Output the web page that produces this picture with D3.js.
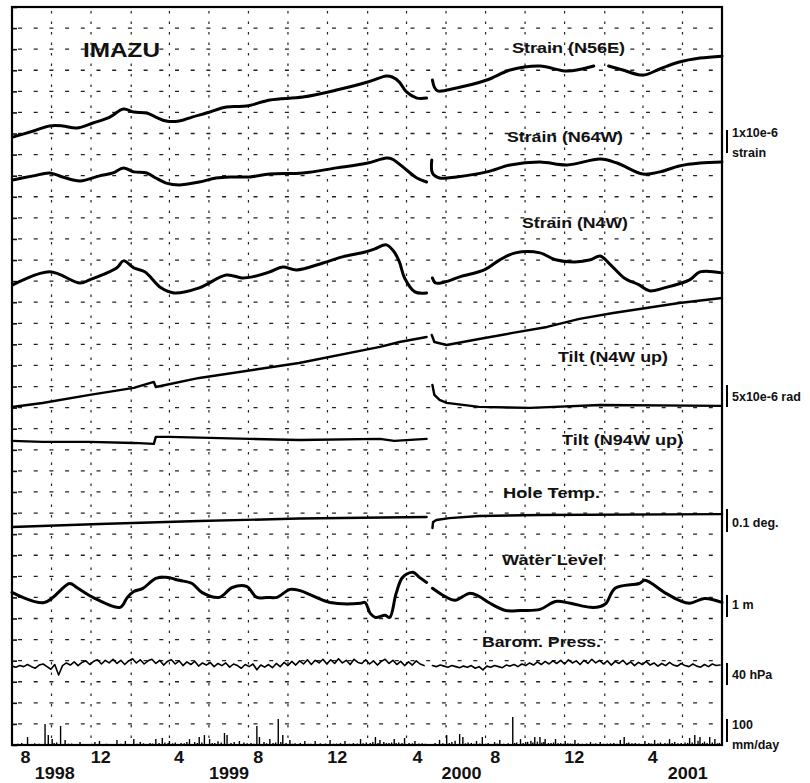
<!DOCTYPE html>
<html>
<head>
<meta charset="utf-8">
<script src="https://cdn.jsdelivr.net/npm/d3@7"></script>
<style>
  body { margin: 0; background: #fff; }
  svg text { font-family: "Liberation Sans", Arial, sans-serif; font-weight: bold; fill: #111; }
</style>
</head>
<body>
<svg id="chart" width="810" height="783"></svg>
<script>
// ---- data (dates + values, null = recording gap) ----
// strain in 1e-6, relative
const strainN56E = [
  ["1998-08-02", -0.17], ["1998-09-03", 0.12], ["1998-09-28", 0.36], ["1998-10-18", 0.36],
  ["1998-11-09", 0.26], ["1998-12-04", 0.50], ["1998-12-30", 0.78], ["1999-01-20", 1.16],
  ["1999-02-05", 1.02], ["1999-02-25", 0.97], ["1999-03-11", 0.78], ["1999-03-27", 0.59],
  ["1999-04-16", 0.59], ["1999-05-06", 0.78], ["1999-05-28", 0.97], ["1999-06-28", 1.26],
  ["1999-07-29", 1.30], ["1999-09-03", 1.59], ["1999-10-24", 1.73], ["1999-12-15", 2.06],
  ["2000-02-01", 2.44], ["2000-03-01", 2.73], ["2000-03-10", 2.68], ["2000-03-21", 2.44],
  ["2000-04-01", 1.97], ["2000-04-17", 1.68], ["2000-05-02", 1.68],
  null,
  ["2000-05-11", 2.54], ["2000-05-14", 2.20], ["2000-05-19", 2.02], ["2000-06-17", 2.16],
  ["2000-08-03", 2.54], ["2000-09-08", 3.01], ["2000-10-24", 3.20], ["2000-12-05", 2.96],
  ["2001-01-15", 3.20],
  null,
  ["2001-02-07", 3.20], ["2001-03-01", 3.01], ["2001-04-01", 2.77], ["2001-04-27", 3.06],
  ["2001-05-27", 3.39], ["2001-06-28", 3.58], ["2001-08-01", 3.67]
];

const strainN64W = [
  ["1998-08-02", 0.80], ["1998-09-03", 0.99], ["1998-09-28", 1.13], ["1998-10-18", 0.94],
  ["1998-11-14", 0.75], ["1998-12-14", 0.99], ["1999-01-04", 1.13], ["1999-01-20", 1.37],
  ["1999-02-05", 1.18], ["1999-02-25", 1.13], ["1999-03-11", 0.89], ["1999-03-27", 0.65],
  ["1999-04-16", 0.56], ["1999-05-17", 0.70], ["1999-06-12", 0.89], ["1999-07-07", 0.94],
  ["1999-08-03", 0.94], ["1999-09-03", 1.08], ["1999-10-24", 1.13], ["1999-12-15", 1.37],
  ["2000-02-01", 1.60], ["2000-03-01", 1.84], ["2000-03-10", 1.79], ["2000-04-01", 1.27],
  ["2000-04-17", 0.89], ["2000-05-02", 0.70],
  null,
  ["2000-05-10", 1.74], ["2000-05-11", 1.13], ["2000-05-22", 0.89], ["2000-06-17", 0.94],
  ["2000-08-03", 1.18], ["2000-09-08", 1.51], ["2000-10-24", 1.65], ["2000-12-05", 1.51],
  ["2001-01-25", 1.79], ["2001-02-20", 1.60], ["2001-04-01", 1.08], ["2001-04-27", 1.18],
  ["2001-05-27", 1.46], ["2001-06-28", 1.60], ["2001-08-01", 1.65]
];

const strainN4W = [
  ["1998-08-02", -0.18], ["1998-09-28", 0.44], ["1998-11-14", -0.09], ["1998-11-29", 0.06],
  ["1999-01-10", 0.63], ["1999-01-20", 0.96], ["1999-02-05", 0.63], ["1999-02-22", 0.44],
  ["1999-03-19", -0.32], ["1999-04-08", -0.56], ["1999-05-17", -0.32], ["1999-06-28", 0.29],
  ["1999-07-22", 0.15], ["1999-08-07", 0.20], ["1999-09-03", 0.44], ["1999-09-23", 0.67],
  ["1999-10-14", 0.53], ["1999-11-24", 0.86], ["1999-12-24", 1.15], ["2000-01-28", 1.38],
  ["2000-02-12", 1.53], ["2000-03-01", 1.72], ["2000-03-13", 1.38], ["2000-03-21", 0.91],
  ["2000-03-29", 0.15], ["2000-04-14", -0.51], ["2000-05-02", -0.56],
  null,
  ["2000-05-11", 0.15], ["2000-05-16", -0.09], ["2000-05-30", -0.04], ["2000-06-22", 0.20],
  ["2000-07-30", 0.53], ["2000-08-23", 1.01], ["2000-09-16", 1.34], ["2000-10-24", 1.34],
  ["2000-11-17", 1.01], ["2000-12-17", 0.91], ["2001-01-10", 1.01], ["2001-01-25", 1.19],
  ["2001-02-10", 0.77], ["2001-03-03", 0.15], ["2001-03-26", -0.18], ["2001-04-11", -0.46],
  ["2001-05-04", -0.32], ["2001-06-12", 0.06], ["2001-06-28", 0.44], ["2001-08-01", 0.39]
];

// tilt in 1e-6 rad, relative
const tiltN4W = [
  ["1998-08-01", -9.84], ["1998-09-17", -8.89], ["1998-11-29", -6.99], ["1999-02-05", -5.33],
  ["1999-03-08", -3.91], ["1999-03-11", -5.10], ["1999-05-17", -2.96], ["1999-10-18", 0.59],
  ["2000-02-20", 4.39], ["2000-03-21", 5.57], ["2000-05-02", 6.76],
  null,
  ["2000-05-10", 7.23], ["2000-05-14", 5.57], ["2000-06-02", 4.86], ["2000-07-22", 6.28],
  ["2000-09-12", 7.71], ["2000-11-04", 9.13], ["2000-12-24", 11.03], ["2001-02-14", 12.45],
  ["2001-04-06", 13.63], ["2001-05-27", 14.82], ["2001-08-01", 16.00]
];

const tiltN94W = [
  ["1998-08-01", -2.89], ["1998-09-17", -3.13], ["1998-11-29", -3.13], ["1999-02-05", -3.37],
  ["1999-03-08", -3.60], ["1999-03-11", -1.94], ["1999-04-01", -1.94], ["1999-08-03", -2.42],
  ["1999-10-18", -2.66], ["2000-02-20", -2.42], ["2000-03-13", -2.89], ["2000-05-02", -2.42],
  null,
  ["2000-05-11", 10.38], ["2000-05-14", 8.01], ["2000-05-22", 6.83], ["2000-06-02", 6.12],
  ["2000-07-22", 5.17], ["2000-10-09", 4.93], ["2001-01-25", 5.64], ["2001-08-01", 5.41]
];

// hole temperature in deg, relative
const holeTemp = [
  ["1998-08-01", -0.066], ["1998-12-14", -0.052], ["1999-05-17", -0.038], ["1999-10-18", -0.026],
  ["2000-05-02", -0.019],
  null,
  ["2000-05-11", -0.071], ["2000-05-12", -0.043], ["2000-05-17", -0.033], ["2000-06-06", -0.024],
  ["2000-07-22", -0.014], ["2000-10-24", -0.009], ["2001-08-01", -0.005]
];

// water level in m, relative
const waterLevel = [
  ["1998-08-01", 0.24], ["1998-09-20", -0.24], ["1998-10-29", 0.66], ["1998-11-09", 0.47],
  ["1998-12-04", 0.00], ["1999-01-15", -0.47], ["1999-01-26", 0.00], ["1999-02-05", 0.28],
  ["1999-02-19", 0.43], ["1999-03-11", 0.90], ["1999-03-27", 0.95], ["1999-04-16", 0.81],
  ["1999-05-06", 0.66], ["1999-05-21", 0.24], ["1999-06-17", 0.00], ["1999-07-07", 0.47],
  ["1999-07-29", 0.52], ["1999-08-14", 0.00], ["1999-08-30", 0.00], ["1999-09-14", 0.00],
  ["1999-10-04", 0.38], ["1999-10-19", 0.33], ["1999-12-05", -0.24], ["2000-01-21", -0.28],
  ["2000-01-28", -0.24], ["2000-02-05", -0.76], ["2000-02-13", -0.95], ["2000-02-28", -0.85],
  ["2000-03-06", -0.95], ["2000-03-16", 0.19], ["2000-03-26", 0.95], ["2000-04-11", 1.19],
  ["2000-04-21", 0.95], ["2000-05-02", 0.71],
  null,
  ["2000-05-11", 0.43], ["2000-05-30", 0.05], ["2000-06-15", -0.14], ["2000-07-07", 0.19],
  ["2000-07-22", 0.05], ["2000-08-08", -0.28], ["2000-09-01", -0.62], ["2000-09-24", -0.62],
  ["2000-10-24", -0.57], ["2000-11-17", -0.19], ["2000-12-10", -0.28], ["2001-01-10", -0.47],
  ["2001-01-25", -0.43], ["2001-02-03", -0.28], ["2001-02-17", 0.43], ["2001-03-26", 0.66],
  ["2001-04-04", 0.81], ["2001-05-04", 0.24], ["2001-05-27", -0.14], ["2001-06-12", -0.28],
  ["2001-07-05", -0.05], ["2001-08-01", -0.24]
];

// barometric pressure, hPa, one reading every 6 days from each start date
const pressStep = 6;
const pressStart1 = "1998-08-01";
const pressure1 = [
  1009, 1007, 1010, 1008, 1012, 1008, 1005, 1011, 1013, 1008,
  1003, 1012, 992, 1010, 1015, 1011, 1017, 1010, 1016, 1019,
  1012, 1018, 1021, 1013, 1020, 1015, 1022, 1014, 1020, 1012,
  1019, 1023, 1015, 1021, 1013, 1019, 1022, 1014, 1020, 1011,
  1018, 1021, 1013, 1019, 1010, 1017, 1012, 1018, 1009, 1015,
  1011, 1016, 1008, 1014, 1010, 1015, 1007, 1013, 1010, 1005,
  1012, 1008, 1013, 1002, 1011, 1007, 1012, 1006, 1014, 1008,
  1016, 1010, 1018, 1011, 1019, 1013, 1021, 1012, 1020, 1015,
  1022, 1013, 1021, 1014, 1023, 1015, 1020, 1012, 1022, 1016,
  1014, 1021, 1013, 1019, 1011, 1018, 1022, 1014, 1020, 1012,
  1018, 1010, 1017, 1011, 1019, 1013, 1010
];
const pressStart2 = "2000-05-11";
const pressure2 = [
  1010, 1008, 1011, 1009, 1007, 1010, 1008, 1006, 1009, 1007,
  1010, 1005, 1008, 1002, 1009, 1007, 1010, 1008, 1006, 1011,
  1009, 1012, 1008, 1013, 1010, 1015, 1011, 1017, 1012, 1018,
  1013, 1019, 1014, 1020, 1013, 1021, 1015, 1019, 1012, 1020,
  1014, 1022, 1015, 1020, 1013, 1019, 1011, 1018, 1014, 1020,
  1012, 1017, 1010, 1016, 1012, 1018, 1011, 1015, 1009, 1014,
  1010, 1016, 1011, 1009, 1014, 1010, 1008, 1013, 1009, 1007,
  1012, 1008, 1013, 1010, 1011
];

// daily rainfall, mm/day
const rainfall = [
  ["1998-08-06", 4], ["1998-08-10", 6], ["1998-08-16", 9], ["1998-08-25", 38], ["1998-08-29", 5],
  ["1998-09-05", 8], ["1998-09-12", 6], ["1998-09-21", 100], ["1998-09-26", 47], ["1998-10-02", 28],
  ["1998-10-05", 10], ["1998-10-09", 12], ["1998-10-15", 90], ["1998-10-22", 24], ["1998-10-27", 6],
  ["1998-11-01", 7], ["1998-11-06", 4], ["1998-11-14", 14], ["1998-11-20", 5], ["1998-11-25", 5],
  ["1998-12-02", 6], ["1998-12-07", 14], ["1998-12-14", 19], ["1998-12-20", 4], ["1998-12-25", 6],
  ["1999-01-02", 5], ["1999-01-10", 24], ["1999-01-16", 6], ["1999-01-23", 19], ["1999-01-29", 5],
  ["1999-02-05", 28], ["1999-02-10", 6], ["1999-02-15", 14], ["1999-02-20", 8], ["1999-03-02", 10],
  ["1999-03-06", 7], ["1999-03-11", 28], ["1999-03-16", 9], ["1999-03-21", 33], ["1999-03-25", 12],
  ["1999-03-30", 9], ["1999-04-01", 19], ["1999-04-06", 8], ["1999-04-10", 12], ["1999-04-19", 10],
  ["1999-04-24", 8], ["1999-04-28", 14], ["1999-05-02", 28], ["1999-05-10", 14], ["1999-05-14", 9],
  ["1999-05-17", 38], ["1999-05-21", 12], ["1999-05-25", 47], ["1999-06-02", 28], ["1999-06-06", 9],
  ["1999-06-10", 10], ["1999-06-15", 18], ["1999-06-20", 12], ["1999-06-25", 57], ["1999-06-29", 47],
  ["1999-07-05", 9], ["1999-07-10", 14], ["1999-07-18", 19], ["1999-07-25", 12], ["1999-07-30", 8],
  ["1999-08-05", 10], ["1999-08-09", 6], ["1999-08-14", 90], ["1999-08-18", 38], ["1999-08-25", 14],
  ["1999-08-29", 8], ["1999-09-03", 28], ["1999-09-08", 9], ["1999-09-12", 12], ["1999-09-16", 123],
  ["1999-09-20", 14], ["1999-09-23", 47], ["1999-09-28", 9], ["1999-10-04", 24], ["1999-10-08", 6],
  ["1999-10-12", 8], ["1999-10-20", 10], ["1999-10-27", 19], ["1999-11-01", 6], ["1999-11-05", 6],
  ["1999-11-12", 19], ["1999-11-16", 5], ["1999-11-20", 8], ["1999-11-28", 7], ["1999-12-05", 24],
  ["1999-12-10", 6], ["1999-12-15", 7], ["1999-12-21", 9], ["1999-12-28", 19], ["2000-01-04", 6],
  ["2000-01-10", 9], ["2000-01-16", 7], ["2000-01-21", 28], ["2000-01-25", 8], ["2000-01-30", 12],
  ["2000-02-05", 10], ["2000-02-09", 14], ["2000-02-13", 38], ["2000-02-17", 10], ["2000-02-20", 24],
  ["2000-02-26", 14], ["2000-03-01", 9], ["2000-03-05", 9], ["2000-03-09", 12], ["2000-03-13", 28],
  ["2000-03-16", 10], ["2000-03-20", 12], ["2000-03-25", 9], ["2000-03-29", 33], ["2000-04-05", 10],
  ["2000-04-10", 8], ["2000-04-14", 19], ["2000-04-20", 7], ["2000-04-25", 8], ["2000-04-30", 6],
  ["2000-05-06", 5], ["2000-05-15", 9], ["2000-05-22", 24], ["2000-05-27", 8], ["2000-06-02", 47],
  ["2000-06-06", 9], ["2000-06-10", 14], ["2000-06-15", 20], ["2000-06-22", 52], ["2000-06-27", 38],
  ["2000-07-01", 8], ["2000-07-05", 12], ["2000-07-10", 9], ["2000-07-14", 6], ["2000-07-18", 19],
  ["2000-07-23", 7], ["2000-07-27", 38], ["2000-08-01", 6], ["2000-08-05", 10], ["2000-08-10", 5],
  ["2000-08-15", 14], ["2000-08-19", 7], ["2000-08-23", 24], ["2000-08-29", 6], ["2000-09-05", 8],
  ["2000-09-12", 133], ["2000-09-15", 9], ["2000-09-18", 12], ["2000-09-24", 28], ["2000-09-28", 9],
  ["2000-10-02", 14], ["2000-10-05", 15], ["2000-10-10", 20], ["2000-10-13", 12], ["2000-10-16", 38],
  ["2000-10-20", 16], ["2000-10-24", 38], ["2000-10-27", 12], ["2000-10-30", 14], ["2000-11-01", 28],
  ["2000-11-06", 9], ["2000-11-10", 10], ["2000-11-14", 12], ["2000-11-17", 28], ["2000-11-21", 8],
  ["2000-11-25", 9], ["2000-11-29", 6], ["2000-12-02", 19], ["2000-12-06", 8], ["2000-12-10", 7],
  ["2000-12-13", 6], ["2000-12-17", 24], ["2000-12-22", 8], ["2000-12-28", 6], ["2001-01-04", 7],
  ["2001-01-10", 14], ["2001-01-14", 6], ["2001-01-18", 8], ["2001-01-25", 14], ["2001-01-30", 6],
  ["2001-02-05", 7], ["2001-02-10", 8], ["2001-02-15", 9], ["2001-02-20", 6], ["2001-02-25", 24],
  ["2001-03-03", 38], ["2001-03-07", 9], ["2001-03-10", 12], ["2001-03-15", 8], ["2001-03-20", 10],
  ["2001-03-26", 7], ["2001-04-04", 19], ["2001-04-10", 9], ["2001-04-14", 7], ["2001-04-19", 24],
  ["2001-04-24", 8], ["2001-04-28", 12], ["2001-05-05", 10], ["2001-05-09", 7], ["2001-05-12", 28],
  ["2001-05-16", 9], ["2001-05-20", 14], ["2001-05-25", 8], ["2001-05-30", 9], ["2001-06-05", 12],
  ["2001-06-09", 10], ["2001-06-12", 33], ["2001-06-16", 12], ["2001-06-20", 47], ["2001-06-25", 20],
  ["2001-06-28", 38], ["2001-07-02", 10], ["2001-07-05", 16], ["2001-07-09", 9], ["2001-07-13", 38],
  ["2001-07-17", 12], ["2001-07-21", 28], ["2001-07-25", 8], ["2001-07-28", 10]
];

// axis labels
const monthLabels = [
  ["1998-08-22", "8"], ["1998-12-16", "12"], ["1999-04-16", "4"], ["1999-08-16", "8"],
  ["1999-12-16", "12"], ["2000-04-18", "4"], ["2000-08-16", "8"], ["2000-12-16", "12"],
  ["2001-04-16", "4"]
];
const yearLabels = [
  ["1998-10-06", "1998"], ["1999-07-02", "1999"], ["2000-06-25", "2000"], ["2001-06-09", "2001"]
];
const seriesLabels = ["Strain (N56E)", "Strain (N64W)", "Strain (N4W)", "Tilt (N4W up)",
  "Tilt (N94W up)", "Hole Temp.", "Water Level", "Barom. Press."];
const scaleLabels = [["1x10e-6", "strain"], ["5x10e-6 rad"], ["0.1 deg."], ["1 m"], ["40 hPa"], ["100", "mm/day"]];
const stationName = "IMAZU";

// ---- layout ----
const X0 = 12, X1 = 722, Y0 = 7, Y1 = 745;
const ROWS = 35, ROW = (Y1 - Y0) / ROWS;
const rowY = (k) => Y0 + k * ROW;
const parse = d3.utcParse("%Y-%m-%d");

const svg = d3.select("#chart");

const x = d3.scaleUtc()
  .domain([parse("1998-08-01"), parse("2001-08-01")])
  .range([X0, X1]);

// grid (dashed rows, dotted columns every two months)
const grid = svg.append("g").attr("stroke", "#222");
grid.selectAll("line.h")
  .data(d3.range(1, ROWS))
  .join("line")
  .attr("x1", X0).attr("x2", X1)
  .attr("y1", (k) => rowY(k)).attr("y2", (k) => rowY(k))
  .attr("stroke-width", 1.3)
  .attr("stroke-dasharray", "4,11.7")
  .attr("stroke-dashoffset", -6);

const gridMonths = d3.utcMonth.range(parse("1998-10-01"), parse("2001-08-01"), 2);
grid.selectAll("line.v")
  .data(gridMonths)
  .join("line")
  .attr("x1", (d) => x(d)).attr("x2", (d) => x(d))
  .attr("y1", Y0).attr("y2", Y1)
  .attr("stroke-width", 1.2)
  .attr("stroke-dasharray", "2.5,8")
  .attr("stroke-dashoffset", -4);

// left axis ticks on every grid row
const rowScale = d3.scaleLinear().domain([0, ROWS]).range([Y0, Y1]);
svg.append("g")
  .attr("transform", `translate(${X0},0)`)
  .call(d3.axisRight(rowScale).ticks(ROWS).tickSize(5).tickSizeOuter(0).tickFormat(""))
  .call((g) => g.select(".domain").remove())
  .call((g) => g.selectAll(".tick line").attr("stroke", "#111").attr("stroke-width", 1.6));

// panels
const smooth = d3.curveCatmullRom.alpha(0.5);
const panels = [
  { data: strainN56E, y0: rowY(6), base: 0, unit: 1, width: 3, curve: smooth },
  { data: strainN64W, y0: rowY(9), base: 0, unit: 1, width: 3, curve: smooth },
  { data: strainN4W, y0: rowY(13), base: 0, unit: 1, width: 3, curve: smooth },
  { data: tiltN4W, y0: rowY(17), base: 0, unit: 5, width: 2.4, curve: d3.curveLinear },
  { data: tiltN94W, y0: rowY(20), base: 0, unit: 5, width: 2.4, curve: d3.curveLinear },
  { data: holeTemp, y0: rowY(24), base: 0, unit: 0.1, width: 2.4, curve: d3.curveLinear },
  { data: waterLevel, y0: rowY(28), base: 0, unit: 1, width: 3, curve: smooth }
];

const linesG = svg.append("g").attr("fill", "none").attr("stroke", "#000")
  .attr("stroke-linejoin", "round").attr("stroke-linecap", "round");

for (const p of panels) {
  const y = d3.scaleLinear().domain([p.base, p.base + p.unit]).range([p.y0, p.y0 - ROW]);
  const line = d3.line()
    .defined((d) => d !== null)
    .curve(p.curve)
    .x((d) => x(parse(d[0])))
    .y((d) => y(d[1]));
  linesG.append("path").attr("stroke-width", p.width).attr("d", line(p.data));
}

// barometric pressure (two recording segments)
const yPress = d3.scaleLinear().domain([1013, 1053]).range([664, 664 - ROW]);
const pressLine = d3.line()
  .defined((d) => d !== null)
  .x((d) => x(d.date))
  .y((d) => yPress(d.v));
const seg = (start, vals) => vals.map((v, i) => ({ date: d3.utcDay.offset(parse(start), i * pressStep), v }));
const pressData = [...seg(pressStart1, pressure1), null, ...seg(pressStart2, pressure2)];
linesG.append("path").attr("stroke-width", 1.6).attr("d", pressLine(pressData));

// rainfall bars
const yRain = d3.scaleLinear().domain([0, 100]).range([Y1, Y1 - ROW]);
svg.append("g").attr("stroke", "#000").attr("stroke-width", 1.4)
  .selectAll("line")
  .data(rainfall)
  .join("line")
  .attr("x1", (d) => x(parse(d[0]))).attr("x2", (d) => x(parse(d[0])))
  .attr("y1", yRain(0)).attr("y2", (d) => yRain(d[1]));

// frame
svg.append("rect")
  .attr("x", X0).attr("y", Y0)
  .attr("width", X1 - X0).attr("height", Y1 - Y0)
  .attr("fill", "none").attr("stroke", "#000").attr("stroke-width", 2.2);

// x labels
svg.append("g").selectAll("text")
  .data(monthLabels)
  .join("text")
  .attr("x", (d) => x(parse(d[0])))
  .attr("y", 763)
  .attr("text-anchor", "middle")
  .attr("font-size", 16)
  .attr("textLength", (d) => d[1].length * 10)
  .attr("lengthAdjust", "spacingAndGlyphs")
  .text((d) => d[1]);

svg.append("g").selectAll("text")
  .data(yearLabels)
  .join("text")
  .attr("x", (d) => x(parse(d[0])))
  .attr("y", 779)
  .attr("text-anchor", "middle")
  .attr("font-size", 16)
  .attr("textLength", 40)
  .attr("lengthAdjust", "spacingAndGlyphs")
  .text((d) => d[1]);

// station name and series titles
svg.append("text")
  .attr("x", 83).attr("y", 57)
  .attr("font-size", 20)
  .attr("textLength", 77).attr("lengthAdjust", "spacingAndGlyphs")
  .text(stationName);

const titlePos = [[512, 113, 53], [507, 116, 142], [522, 106, 228], [558, 110, 362],
  [562, 121, 445], [503, 97, 498], [502, 101, 565], [482, 119, 647]];
svg.append("g").selectAll("text")
  .data(seriesLabels)
  .join("text")
  .attr("x", (d, i) => titlePos[i][0])
  .attr("y", (d, i) => titlePos[i][2])
  .attr("font-size", 15)
  .attr("textLength", (d, i) => titlePos[i][1])
  .attr("lengthAdjust", "spacingAndGlyphs")
  .text((d) => d);

// scale bars on the right
const scaleBars = [[130, 23], [385, 22], [509, 23], [595, 22], [663, 22], [719, 23]];
const scaleText = [[137, 157], [401], [527], [609], [679], [729, 749]];
const sb = svg.append("g");
scaleBars.forEach(([y, h], i) => {
  sb.append("line")
    .attr("x1", 727).attr("x2", 727)
    .attr("y1", y).attr("y2", y + h)
    .attr("stroke", "#000").attr("stroke-width", 2);
  scaleLabels[i].forEach((t, j) => {
    sb.append("text")
      .attr("x", 732).attr("y", scaleText[i][j])
      .attr("font-size", 12.5)
      .text(t);
  });
});
</script>
</body>
</html>
